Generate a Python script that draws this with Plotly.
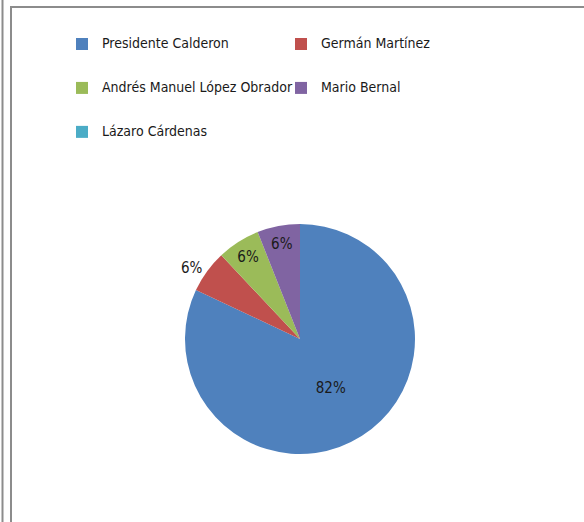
import plotly.graph_objects as go

# Datos
candidatos = ['Presidente Calderon', 'Germán Martínez', 'Andrés Manuel López Obrador',
              'Mario Bernal', 'Lázaro Cárdenas']
porcentajes = [82, 6, 6, 6, 0]
colores = ['#4F81BD', '#C0504D', '#9BBB59', '#8064A2', '#4BACC6']
posicion_texto = ['inside', 'outside', 'inside', 'inside', 'inside']
# sin etiqueta para la rebanada vacia
plantilla_texto = ['%{percent:.0%}' if p > 0 else '' for p in porcentajes]

W, H = 584, 522
fuente = 'Liberation Sans Narrow, DejaVu Sans Condensed, sans-serif'

# Etiquetas de leyenda con lineas vacias para separar las filas
etiquetas = [" <br><span style='font-size:14px'>%s</span><br> " % c for c in candidatos]

fig = go.Figure(go.Pie(
    labels=etiquetas,
    values=porcentajes,
    marker=dict(colors=colores),
    sort=False,
    direction='clockwise',
    rotation=0,
    texttemplate=plantilla_texto,
    textposition=posicion_texto,
    insidetextorientation='horizontal',
    textfont=dict(family=fuente, size=15, color='#1a1a1a'),
    hoverinfo='value+percent',
    domain=dict(x=[(300 - 115) / W, (300 + 115) / W],
                y=[1 - (339 + 115) / H, 1 - (339 - 115) / H]),
))

fig.update_layout(
    width=W, height=H,
    margin=dict(l=0, r=0, t=0, b=0),
    paper_bgcolor='white',
    font=dict(family=fuente, size=15, color='#1a1a1a'),
    uniformtext=dict(minsize=15, mode='show'),
    legend=dict(
        orientation='h',
        x=62 / W, y=1 - 17 / H,
        xanchor='left', yanchor='top',
        entrywidth=174,
        font=dict(family=fuente, size=10.5, color='#1a1a1a'),
        bgcolor='rgba(0,0,0,0)',
    ),
    shapes=[
        dict(type='line', xref='paper', yref='paper', x0=2.5 / W, x1=2.5 / W, y0=0, y1=1,
             line=dict(color='#8c8c8c', width=2)),
        dict(type='line', xref='paper', yref='paper', x0=11 / W, x1=11 / W, y0=0, y1=1 - 6 / H,
             line=dict(color='#8c8c8c', width=2)),
        dict(type='line', xref='paper', yref='paper', x0=10 / W, x1=1, y0=1 - 7 / H, y1=1 - 7 / H,
             line=dict(color='#8c8c8c', width=2)),
    ],
)

fig.write_html('out.html', config={'displayModeBar': False},
               post_script="document.body.style.margin='0';")
